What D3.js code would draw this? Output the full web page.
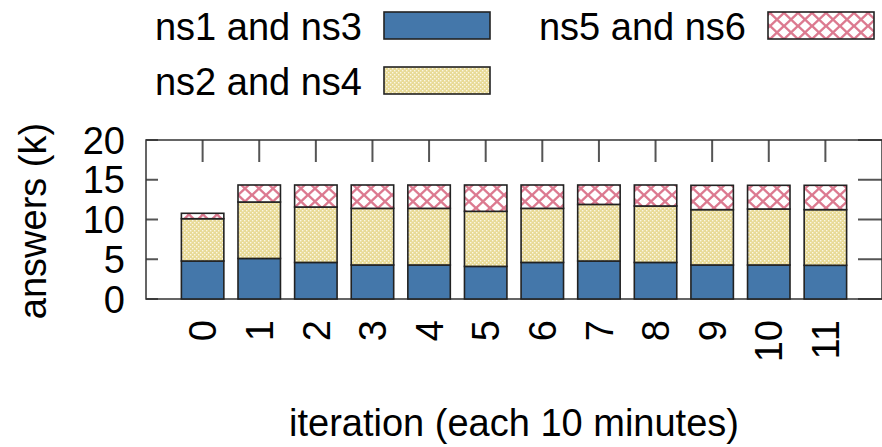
<!DOCTYPE html>
<html>
<head>
<meta charset="utf-8">
<script src="https://cdn.jsdelivr.net/npm/d3@7"></script>
<style>
  body { margin: 0; background: #fff; }
  svg text { font-family: "Liberation Sans", Arial, sans-serif; fill: #000; }
</style>
</head>
<body>
<svg id="chart" width="882" height="447"></svg>
<script>
// ---------------- data ----------------
var iterations = ["0", "1", "2", "3", "4", "5", "6", "7", "8", "9", "10", "11"];
var ns13 = [4.78, 5.1, 4.6, 4.28, 4.28, 4.1, 4.6, 4.78, 4.6, 4.28, 4.28, 4.24];
var ns24 = [5.32, 7.1, 6.97, 7.12, 7.12, 6.93, 6.8, 7.12, 7.1, 6.96, 7.04, 7.0];
var ns56 = [0.68, 2.14, 2.77, 2.94, 2.94, 3.31, 2.94, 2.44, 2.64, 3.06, 2.98, 3.06];
var seriesNames = ["ns1 and ns3", "ns2 and ns4", "ns5 and ns6"];
var yTicks = [0, 5, 10, 15, 20];

var rows = iterations.map(function(it, i) {
    return { it: +it, a: ns13[i], b: ns24[i], c: ns56[i] };
});

var svg = d3.select('#chart');
var fontSize = 38;

// ---------------- patterns ----------------
var defs = svg.append('defs');

var dots = defs.append('pattern')
    .attr('id', 'dots')
    .attr('patternUnits', 'userSpaceOnUse')
    .attr('width', 4).attr('height', 4);
dots.append('rect').attr('width', 4).attr('height', 4).attr('fill', '#e8da96');
dots.append('rect').attr('x', 0).attr('y', 0).attr('width', 1.4).attr('height', 1.4).attr('fill', '#fbf7e4');
dots.append('rect').attr('x', 2).attr('y', 2).attr('width', 1.4).attr('height', 1.4).attr('fill', '#fbf7e4');

var hatch = defs.append('pattern')
    .attr('id', 'hatch')
    .attr('patternUnits', 'userSpaceOnUse')
    .attr('width', 14).attr('height', 13);
hatch.append('rect').attr('width', 14).attr('height', 13).attr('fill', '#fff');
hatch.append('path')
    .attr('d', 'M-1,-1L15,14M15,-1L-1,14')
    .attr('stroke', '#dc7a90')
    .attr('stroke-width', 2.4)
    .attr('fill', 'none');

var fills = ['#4477aa', 'url(#dots)', 'url(#hatch)'];

// ---------------- scales ----------------
var x = d3.scaleLinear().domain([-1, 12]).range([146, 882]);
var y = d3.scaleLinear().domain([0, 20]).range([299, 140]);
var barW = (x(1) - x(0)) * 0.75;

// ---------------- frame and ticks ----------------
var g = svg.append('g');

// top mirrored x ticks
g.selectAll('.xt')
    .data(rows)
    .enter()
    .append('line')
        .attr('x1', d => x(d.it)).attr('x2', d => x(d.it))
        .attr('y1', y(20)).attr('y2', y(20) + 22)
        .attr('stroke', '#555').attr('stroke-width', 2);

// left y ticks
g.selectAll('.ylt')
    .data(yTicks)
    .enter()
    .append('line')
        .attr('x1', x(-1)).attr('x2', x(-1) + 12)
        .attr('y1', d => y(d)).attr('y2', d => y(d))
        .attr('stroke', '#555').attr('stroke-width', 2);

// right y ticks
g.selectAll('.yrt')
    .data(yTicks)
    .enter()
    .append('line')
        .attr('x1', x(12) - 24).attr('x2', x(12))
        .attr('y1', d => y(d)).attr('y2', d => y(d))
        .attr('stroke', '#555').attr('stroke-width', 2);

g.append('rect')
    .attr('x', x(-1)).attr('y', y(20))
    .attr('width', x(12) - x(-1)).attr('height', y(0) - y(20))
    .attr('fill', 'none')
    .attr('stroke', '#333')
    .attr('stroke-width', 1.5);

// ---------------- bars ----------------
var stack = d3.stack().keys(['a', 'b', 'c'])(rows);

svg.append('g')
    .selectAll('g')
    .data(stack)
    .enter()
    .append('g')
        .attr('fill', (d, i) => fills[i])
    .selectAll('rect')
    .data(d => d)
    .enter()
    .append('rect')
        .attr('x', d => x(d.data.it) - barW / 2)
        .attr('y', d => y(d[1]))
        .attr('width', barW)
        .attr('height', d => y(d[0]) - y(d[1]))
        .attr('stroke', '#222')
        .attr('stroke-width', 1.6);

// ---------------- tick labels ----------------
svg.append('g')
    .selectAll('text')
    .data(yTicks)
    .enter()
    .append('text')
        .attr('x', 125)
        .attr('y', d => y(d))
        .attr('dy', '0.36em')
        .attr('text-anchor', 'end')
        .style('font-size', fontSize + 'px')
        .text(d => d);

svg.append('g')
    .selectAll('text')
    .data(iterations)
    .enter()
    .append('text')
        .attr('transform', d => `translate(${x(+d)}, 320) rotate(-90)`)
        .attr('dy', '0.36em')
        .attr('text-anchor', 'end')
        .style('font-size', fontSize + 'px')
        .text(d => d);

// axis titles
svg.append('text')
    .attr('transform', 'translate(46, 221) rotate(-90)')
    .attr('text-anchor', 'middle')
    .style('font-size', fontSize + 'px')
    .text('answers (k)');

svg.append('text')
    .attr('x', (x(-1) + x(12)) / 2)
    .attr('y', 436)
    .attr('text-anchor', 'middle')
    .style('font-size', fontSize + 'px')
    .text('iteration (each 10 minutes)');

// ---------------- legend ----------------
var legendPos = [
    { tx: 362, bx: 384, base: 40, top: 12 },
    { tx: 362, bx: 384, base: 95, top: 67 },
    { tx: 746, bx: 768, base: 40, top: 12 }
];

var leg = svg.append('g')
    .selectAll('g')
    .data(seriesNames)
    .enter()
    .append('g');

leg.append('text')
    .attr('x', (d, i) => legendPos[i].tx)
    .attr('y', (d, i) => legendPos[i].base)
    .attr('text-anchor', 'end')
    .style('font-size', fontSize + 'px')
    .text(d => d);

leg.append('rect')
    .attr('x', (d, i) => legendPos[i].bx)
    .attr('y', (d, i) => legendPos[i].top)
    .attr('width', 106)
    .attr('height', 27)
    .attr('fill', (d, i) => fills[i])
    .attr('stroke', '#222')
    .attr('stroke-width', 1.6);
</script>
</body>
</html>
